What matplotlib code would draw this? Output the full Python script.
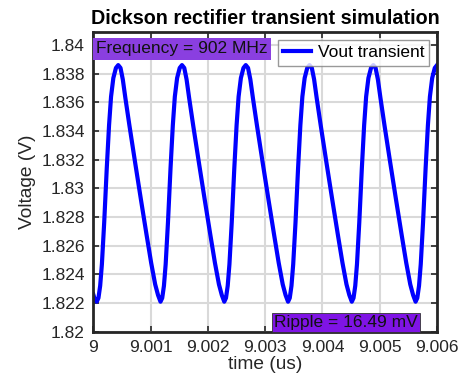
import numpy as np
import matplotlib.pyplot as plt

# time offsets after 9 us, in ns
time_ns = [
    0.000, 0.030,
    0.060, 0.090, 0.120, 0.150, 0.190, 0.235, 0.275, 0.310, 0.350, 0.395, 0.435,
    0.475, 0.515, 0.560, 0.630, 0.730, 0.830, 0.930, 1.010, 1.080, 1.130,
    1.173, 1.203, 1.233, 1.263, 1.303, 1.348, 1.388, 1.423, 1.463, 1.508, 1.548,
    1.588, 1.628, 1.673, 1.743, 1.843, 1.943, 2.043, 2.123, 2.193, 2.243,
    2.286, 2.316, 2.346, 2.376, 2.416, 2.461, 2.501, 2.536, 2.576, 2.621, 2.661,
    2.701, 2.741, 2.786, 2.856, 2.956, 3.056, 3.156, 3.236, 3.306, 3.356,
    3.399, 3.429, 3.459, 3.489, 3.529, 3.574, 3.614, 3.649, 3.689, 3.734, 3.774,
    3.814, 3.854, 3.899, 3.969, 4.069, 4.169, 4.269, 4.349, 4.419, 4.469,
    4.512, 4.542, 4.572, 4.602, 4.642, 4.687, 4.727, 4.762, 4.802, 4.847, 4.887,
    4.927, 4.967, 5.012, 5.082, 5.182, 5.282, 5.382, 5.462, 5.532, 5.582,
    5.625, 5.655, 5.685, 5.715, 5.755, 5.800, 5.840, 5.875, 5.915, 5.960, 6.000,
]
# output voltage in V
vout = [
    1.8226, 1.8222,
    1.82209, 1.82235, 1.8232, 1.8247, 1.8276, 1.8314, 1.8344, 1.8364, 1.8377, 1.8384, 1.8386,
    1.8384, 1.8376, 1.8363, 1.8344, 1.8318, 1.82925, 1.82675, 1.8248, 1.8233, 1.82255,
    1.82209, 1.82235, 1.8232, 1.8247, 1.8276, 1.8314, 1.8344, 1.8364, 1.8377, 1.8384, 1.8386,
    1.8384, 1.8376, 1.8363, 1.8344, 1.8318, 1.82925, 1.82675, 1.8248, 1.8233, 1.82255,
    1.82209, 1.82235, 1.8232, 1.8247, 1.8276, 1.8314, 1.8344, 1.8364, 1.8377, 1.8384, 1.8386,
    1.8384, 1.8376, 1.8363, 1.8344, 1.8318, 1.82925, 1.82675, 1.8248, 1.8233, 1.82255,
    1.82209, 1.82235, 1.8232, 1.8247, 1.8276, 1.8314, 1.8344, 1.8364, 1.8377, 1.8384, 1.8386,
    1.8384, 1.8376, 1.8363, 1.8344, 1.8318, 1.82925, 1.82675, 1.8248, 1.8233, 1.82255,
    1.82209, 1.82235, 1.8232, 1.8247, 1.8276, 1.8314, 1.8344, 1.8364, 1.8377, 1.8384, 1.8386,
    1.8384, 1.8376, 1.8363, 1.8344, 1.8318, 1.82925, 1.82675, 1.8248, 1.8233, 1.82255,
    1.82209, 1.82235, 1.8232, 1.8247, 1.8276, 1.8314, 1.8344, 1.8364, 1.8377, 1.8384, 1.8386,
]
x_ticks = [9, 9.001, 9.002, 9.003, 9.004, 9.005, 9.006]
x_labels = ['9', '9.001', '9.002', '9.003', '9.004', '9.005', '9.006']
y_ticks = [1.82, 1.822, 1.824, 1.826, 1.828, 1.83, 1.832, 1.834, 1.836, 1.838, 1.84]
y_labels = ['1.82', '1.822', '1.824', '1.826', '1.828', '1.83', '1.832', '1.834', '1.836', '1.838', '1.84']
freq_text = 'Frequency = 902 MHz'
ripple_text = 'Ripple = 16.49 mV'

plt.rcParams['font.family'] = ['Liberation Sans', 'DejaVu Sans']

t_us = 9 + np.array(time_ns) / 1000.0

fig = plt.figure(figsize=(4.63, 3.87), dpi=100)
ax = fig.add_axes([0.2015, 0.143, 0.7425, 0.774])

ax.plot(t_us, vout, color='#0000ff', linewidth=3.0, label='Vout transient',
        solid_joinstyle='round')

ax.set_xlim(9, 9.006)
ax.set_ylim(1.82, 1.8409)
ax.set_xticks(x_ticks)
ax.set_xticklabels(x_labels)
ax.set_yticks(y_ticks)
ax.set_yticklabels(y_labels)
ax.tick_params(direction='in', length=4, width=1.2, labelsize=12.5,
               top=True, right=True, colors='#262626', pad=6)
ax.grid(True, color='#d9d9d9', linewidth=1.5)
ax.set_axisbelow(True)
for s in ax.spines.values():
    s.set_linewidth(2.0)
    s.set_color('#262626')

ax.set_title('Dickson rectifier transient simulation', fontsize=14.2,
             fontweight='bold', pad=6)
ax.set_xlabel('time (us)', fontsize=13.8, color='#262626', labelpad=1)
ax.set_ylabel('Voltage (V)', fontsize=13.8, color='#262626', labelpad=4)

ax.text(0.008, 0.944, freq_text, transform=ax.transAxes, fontsize=12.5,
        va='center', ha='left', color='#111111',
        bbox=dict(boxstyle='square,pad=0.2', facecolor='#8a3fe0', edgecolor='none'))
ax.text(0.525, 0.03, ripple_text, transform=ax.transAxes, fontsize=12.5,
        va='center', ha='left', color='#111111', clip_on=False,
        bbox=dict(boxstyle='square,pad=0.12', facecolor='#7f14e5', edgecolor='#333333',
                  linewidth=0.6))

leg = ax.legend(loc='upper right', fontsize=12.5, frameon=True, fancybox=False,
                handlelength=1.6, handletextpad=0.4, borderpad=0.3,
                borderaxespad=0.45)
leg.get_frame().set_edgecolor('#808080')
leg.get_frame().set_linewidth(1.0)

fig.savefig('out.png', dpi=100)
